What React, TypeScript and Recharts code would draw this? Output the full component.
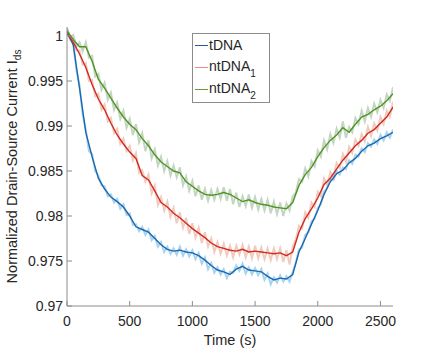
import { LineChart, Line, XAxis, YAxis, Legend, Label } from "recharts";

// sampling grid of the noisy traces (s)
const timeS = [
  0, 25, 50, 75, 100, 125, 150, 175, 200, 225,
  250, 275, 300, 325, 350, 375, 400, 425, 450, 475,
  500, 525, 550, 575, 600, 625, 650, 675, 700, 725,
  750, 775, 800, 825, 850, 875, 900, 925, 950, 975,
  1000, 1025, 1050, 1075, 1100, 1125, 1150, 1175, 1200, 1225,
  1250, 1275, 1300, 1325, 1350, 1375, 1400, 1425, 1450, 1475,
  1500, 1525, 1550, 1575, 1600, 1625, 1650, 1675, 1700, 1725,
  1750, 1775, 1800, 1825, 1850, 1875, 1900, 1925, 1950, 1975,
  2000, 2025, 2050, 2075, 2100, 2125, 2150, 2175, 2200, 2225,
  2250, 2275, 2300, 2325, 2350, 2375, 2400, 2425, 2450, 2475,
  2500, 2525, 2550, 2575, 2600,
];

// raw (noisy) traces, one value per timeS entry
const tdnaRaw = [
  1.0008, 0.9996, 0.9992, 0.9962, 0.9945, 0.9912, 0.9896, 0.9872, 0.9869, 0.985,
  0.9845, 0.9834, 0.9833, 0.9822, 0.9824, 0.9815, 0.9819, 0.9808, 0.9813, 0.9801,
  0.9803, 0.979, 0.9791, 0.9783, 0.9788, 0.9779, 0.9785, 0.9773, 0.9778, 0.9766,
  0.9771, 0.976, 0.9766, 0.9758, 0.9764, 0.9757, 0.9766, 0.9756, 0.9763, 0.9755,
  0.9762, 0.9752, 0.9759, 0.9747, 0.9754, 0.9741, 0.9748, 0.9737, 0.9743, 0.9735,
  0.9741, 0.9731, 0.9738, 0.9737, 0.9745, 0.9739, 0.9747, 0.9736, 0.9743, 0.9735,
  0.9742, 0.9734, 0.9741, 0.9729, 0.9736, 0.9724, 0.9732, 0.9726, 0.9734, 0.9727,
  0.9733, 0.9727, 0.9738, 0.9748, 0.9763, 0.9765, 0.9779, 0.9782, 0.9794, 0.9797,
  0.9809, 0.9813, 0.9827, 0.9831, 0.9841, 0.984, 0.985, 0.9846, 0.9854, 0.9852,
  0.9862, 0.9858, 0.9868, 0.9866, 0.9875, 0.9871, 0.9881, 0.9877, 0.9885, 0.988,
  0.989, 0.9884, 0.9893, 0.9887, 0.9896,
];
const ntdna1Raw = [
  1.0005, 0.9996, 0.9997, 0.9984, 0.9984, 0.9968, 0.997, 0.995, 0.9951, 0.9933,
  0.9936, 0.9918, 0.9924, 0.9905, 0.9909, 0.9892, 0.9897, 0.988, 0.9886, 0.9872,
  0.9878, 0.9862, 0.987, 0.9848, 0.9851, 0.9838, 0.9846, 0.9825, 0.9834, 0.9812,
  0.9821, 0.9806, 0.9816, 0.9799, 0.9809, 0.9792, 0.9804, 0.9787, 0.9798, 0.978,
  0.9792, 0.9776, 0.9787, 0.977, 0.9782, 0.9766, 0.9775, 0.976, 0.9771, 0.9758,
  0.9769, 0.9756, 0.9767, 0.9754, 0.9767, 0.9757, 0.9768, 0.9754, 0.9766, 0.9753,
  0.9767, 0.9753, 0.9765, 0.9752, 0.9764, 0.9751, 0.9764, 0.9752, 0.9764, 0.9749,
  0.9762, 0.9746, 0.9766, 0.9774, 0.9789, 0.9786, 0.9804, 0.9798, 0.9815, 0.981,
  0.9827, 0.9822, 0.9842, 0.9834, 0.9849, 0.9843, 0.9859, 0.9853, 0.9869, 0.986,
  0.9877, 0.987, 0.9885, 0.9878, 0.9891, 0.9883, 0.9899, 0.9889, 0.9903, 0.9895,
  0.991, 0.9902, 0.9917, 0.991, 0.9927,
];
const ntdna2Raw = [
  1.0009, 0.9998, 1.0001, 0.9988, 0.9993, 0.9983, 0.9993, 0.9976, 0.9978, 0.9955,
  0.9958, 0.994, 0.9948, 0.9929, 0.9937, 0.9918, 0.9926, 0.9908, 0.9917, 0.9898,
  0.9908, 0.989, 0.9902, 0.9882, 0.9892, 0.9872, 0.9884, 0.9864, 0.9874, 0.9856,
  0.9866, 0.985, 0.9861, 0.9845, 0.9856, 0.9843, 0.9854, 0.9834, 0.9844, 0.9828,
  0.9839, 0.9822, 0.9834, 0.9818, 0.983, 0.9817, 0.9829, 0.9818, 0.983, 0.9819,
  0.9832, 0.9817, 0.983, 0.9813, 0.9826, 0.981, 0.9822, 0.9811, 0.9824, 0.9809,
  0.9821, 0.9807, 0.9819, 0.9806, 0.9818, 0.9803, 0.9816, 0.9802, 0.9815, 0.98,
  0.9814, 0.9806, 0.9822, 0.9826, 0.9841, 0.9838, 0.9853, 0.9844, 0.9861, 0.9855,
  0.9873, 0.9866, 0.9884, 0.9874, 0.9891, 0.9881, 0.9897, 0.9887, 0.9905, 0.9887,
  0.9899, 0.9893, 0.9909, 0.9902, 0.9917, 0.9905, 0.992, 0.991, 0.9925, 0.9915,
  0.9929, 0.992, 0.9935, 0.9928, 0.9943,
];

// smoothed traces, every 50 s (every second timeS entry)
const tdnaMean = [
  1.0005, 0.999, 0.9942, 0.9893, 0.9866, 0.9842, 0.983, 0.9821, 0.9816, 0.981,
  0.98, 0.9788, 0.9785, 0.9782, 0.9775, 0.9768, 0.9763, 0.9761, 0.9762, 0.976,
  0.9759, 0.9756, 0.9751, 0.9745, 0.974, 0.9738, 0.9735, 0.9741, 0.9744, 0.974,
  0.9739, 0.9738, 0.9733, 0.9729, 0.9731, 0.973, 0.9735, 0.976, 0.9775, 0.9791,
  0.9806, 0.9824, 0.9838, 0.9847, 0.9851, 0.9859, 0.9864, 0.9872, 0.9878, 0.9881,
  0.9886, 0.9889, 0.9893,
];
const ntdna1Mean = [
  1.0003, 0.9993, 0.998, 0.9965, 0.9946, 0.993, 0.9918, 0.9903, 0.989, 0.988,
  0.9871, 0.9864, 0.9845, 0.984, 0.9828, 0.9815, 0.981, 0.9803, 0.9798, 0.9792,
  0.9786, 0.9781, 0.9776, 0.977, 0.9766, 0.9764, 0.9762, 0.9761, 0.9763, 0.976,
  0.9761, 0.976, 0.9759, 0.9758, 0.9759, 0.9756, 0.976, 0.9782, 0.9797, 0.9808,
  0.982, 0.9835, 0.9842, 0.9852, 0.9862, 0.987, 0.9878, 0.9884, 0.9892, 0.9896,
  0.9903, 0.991, 0.9921,
];
const ntdna2Mean = [
  1.0006, 0.9996, 0.9988, 0.9988, 0.9972, 0.9952, 0.9942, 0.9931, 0.992, 0.991,
  0.9902, 0.9896, 0.9886, 0.9878, 0.9868, 0.986, 0.9855, 0.985, 0.9848, 0.9838,
  0.9833, 0.9828, 0.9824, 0.9823, 0.9824, 0.9826, 0.9824, 0.982, 0.9816, 0.9818,
  0.9815, 0.9813, 0.9812, 0.981, 0.9809, 0.9808, 0.9815, 0.9834, 0.9846, 0.9854,
  0.9866, 0.9876, 0.9884, 0.989, 0.9898, 0.9893, 0.9902, 0.991, 0.9913, 0.9918,
  0.9922, 0.9928, 0.9936,
];

const xTicks = [0, 500, 1000, 1500, 2000, 2500];
const yTicks = [0.97, 0.975, 0.98, 0.985, 0.99, 0.995, 1];

const legendItems = [
  { name: "tDNA", sub: "", color: "#1f5c99" },
  { name: "ntDNA", sub: "1", color: "#ee8a86" },
  { name: "ntDNA", sub: "2", color: "#5f9e3c" },
];

const rows = timeS.map((t, i) => ({
  t,
  tdnaRaw: tdnaRaw[i],
  ntdna1Raw: ntdna1Raw[i],
  ntdna2Raw: ntdna2Raw[i],
  tdna: i % 2 === 0 ? tdnaMean[i / 2] : undefined,
  ntdna1: i % 2 === 0 ? ntdna1Mean[i / 2] : undefined,
  ntdna2: i % 2 === 0 ? ntdna2Mean[i / 2] : undefined,
}));

const FONT = "'Liberation Sans', Arial, Helvetica, sans-serif";
const AXIS = "#8c8c8c";
const TEXT = "#262626";

function LegendBox() {
  return (
    <div
      style={{
        border: `1px solid ${AXIS}`,
        background: "#fff",
        fontFamily: FONT,
        fontSize: 14,
        color: TEXT,
        paddingBottom: 2,
      }}
    >
      {legendItems.map((item, i) => (
        <div
          key={i}
          style={{ display: "flex", alignItems: "center", height: 22, lineHeight: "14px" }}
        >
          <span
            style={{
              display: "inline-block",
              width: 13,
              height: 0,
              borderTop: `1px solid ${item.color}`,
              marginLeft: 2,
              marginRight: 1,
            }}
          />
          <span>
            {item.name}
            {item.sub && (
              <span style={{ fontSize: 10, position: "relative", top: 6 }}>{item.sub}</span>
            )}
          </span>
        </div>
      ))}
    </div>
  );
}

function YLabel(props: any) {
  const vb = props.viewBox || { x: 0, y: 0, width: 0, height: 0 };
  const cx = vb.x + 12;
  const cy = vb.y + vb.height / 2;
  return (
    <text
      x={cx}
      y={cy}
      transform={`rotate(-90 ${cx} ${cy})`}
      textAnchor="middle"
      dominantBaseline="central"
      fontFamily={FONT}
      fontSize={14.5}
      fill={TEXT}
    >
      Normalized Drain-Source Current I
      <tspan fontSize={10} dy={5}>ds</tspan>
    </text>
  );
}

export default function App() {
  return (
    <div style={{ position: "absolute", left: 0, top: 0, background: "#fff" }}>
      <LineChart
        width={436}
        height={349}
        data={rows}
        margin={{ top: 27, right: 43, bottom: 0, left: 0 }}
      >
        <XAxis
          xAxisId="b"
          dataKey="t"
          type="number"
          domain={[0, 2600]}
          ticks={xTicks}
          allowDataOverflow
          height={43}
          tickSize={-5}
          tickMargin={15}
          stroke={AXIS}
          tick={{ fill: TEXT, fontSize: 14, fontFamily: FONT }}
        >
          <Label
            value="Time (s)"
            position="insideBottom"
            offset={4}
            style={{ fill: TEXT, fontSize: 14.5, fontFamily: FONT }}
          />
        </XAxis>
        <XAxis
          xAxisId="top"
          orientation="top"
          dataKey="t"
          type="number"
          domain={[0, 2600]}
          ticks={xTicks}
          allowDataOverflow
          height={0}
          tickSize={-5}
          stroke={AXIS}
          tickFormatter={() => ""}
        />
        <YAxis
          yAxisId="l"
          type="number"
          domain={[0.97, 1.001]}
          ticks={yTicks}
          allowDataOverflow
          width={67}
          tickSize={-5}
          tickMargin={9}
          stroke={AXIS}
          tick={{ fill: TEXT, fontSize: 14, fontFamily: FONT }}
          tickFormatter={(v: number) => String(v)}
        >
          <Label content={<YLabel />} />
        </YAxis>
        <YAxis
          yAxisId="r"
          orientation="right"
          type="number"
          domain={[0.97, 1.001]}
          ticks={yTicks}
          allowDataOverflow
          width={0}
          tickSize={-5}
          stroke={AXIS}
          tickFormatter={() => ""}
        />
        <Legend
          align="center"
          verticalAlign="middle"
          layout="horizontal"
          content={<LegendBox />}
          wrapperStyle={{ left: 192, top: 33, width: 78 }}
        />
        <Line xAxisId="b" yAxisId="l" dataKey="tdnaRaw" type="linear" stroke="#6cb8ea" strokeOpacity={0.6} strokeWidth={2} dot={false} isAnimationActive={false} legendType="none" />
        <Line xAxisId="b" yAxisId="l" dataKey="ntdna1Raw" type="linear" stroke="#e8a892" strokeOpacity={0.6} strokeWidth={2} dot={false} isAnimationActive={false} legendType="none" />
        <Line xAxisId="b" yAxisId="l" dataKey="ntdna2Raw" type="linear" stroke="#9cbb98" strokeOpacity={0.6} strokeWidth={2} dot={false} isAnimationActive={false} legendType="none" />
        <Line xAxisId="b" yAxisId="l" dataKey="tdna" type="linear" stroke="#1d67aa" strokeWidth={1.4} dot={false} connectNulls isAnimationActive={false} />
        <Line xAxisId="b" yAxisId="l" dataKey="ntdna1" type="linear" stroke="#d12a22" strokeWidth={1.4} dot={false} connectNulls isAnimationActive={false} />
        <Line xAxisId="b" yAxisId="l" dataKey="ntdna2" type="linear" stroke="#4e9423" strokeWidth={1.4} dot={false} connectNulls isAnimationActive={false} />
      </LineChart>
    </div>
  );
}
